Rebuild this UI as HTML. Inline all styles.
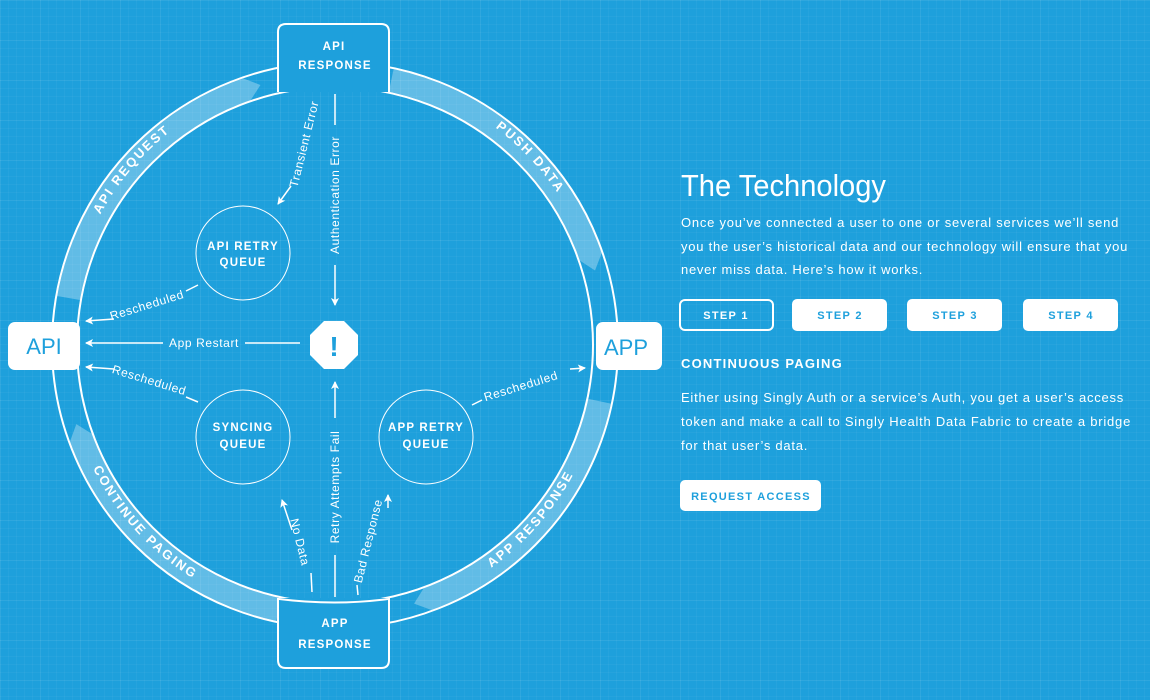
<!DOCTYPE html>
<html><head><meta charset="utf-8"><style>
html,body{margin:0;padding:0;width:1150px;height:700px;overflow:hidden;background:#1ea0dc;}
.bg{position:absolute;left:0;top:0;width:1150px;height:700px;
background-color:#1ea0dc;
background-image:
linear-gradient(rgba(255,255,255,0.045) 1px,transparent 1px),
linear-gradient(90deg,rgba(255,255,255,0.045) 1px,transparent 1px),
linear-gradient(rgba(255,255,255,0.035) 1px,transparent 1px),
linear-gradient(90deg,rgba(255,255,255,0.035) 1px,transparent 1px);
background-size:40px 40px,40px 40px,8px 8px,8px 8px;}
svg{position:absolute;left:0;top:0;}
text{font-family:"Liberation Sans",sans-serif;fill:#fff;}
.cap{font-weight:bold;font-size:11.5px;letter-spacing:1.2px;}
.lab{font-size:12px;letter-spacing:0.6px;}
.ring{font-weight:bold;font-size:13px;letter-spacing:2px;}
.p{font-size:13px;letter-spacing:0.7px;}
.btn{font-weight:bold;font-size:11px;letter-spacing:1.3px;fill:#1ea0dc;}
</style></head><body>
<div class="bg"></div>
<svg id="s" width="1150" height="700" viewBox="0 0 1150 700">
<defs>
<marker id="ah" markerWidth="10" markerHeight="10" refX="8" refY="5" orient="auto" markerUnits="userSpaceOnUse">
<path d="M1,1 L9,5 L1,9 L3,5 Z" fill="#fff"/></marker>
<path id="pReq" d="M 71 300 A 270 270 0 0 1 250 88"/>
<path id="pPush" d="M 420 88 A 270 270 0 0 1 600 300"/>
<path id="pCont" d="M 70 400 A 270 270 0 0 0 260 608"/>
<path id="pResp" d="M 420 604 A 270 270 0 0 0 600 398"/>
</defs>
<g id="bands"></g>
<circle cx="335" cy="345" r="283" fill="none" stroke="#fff" stroke-width="2"/>
<circle cx="335" cy="345" r="258" fill="none" stroke="#fff" stroke-width="2"/>
<text class="ring"><textPath href="#pReq" startOffset="50%" text-anchor="middle" dy="4">API REQUEST</textPath></text>
<text class="ring"><textPath href="#pPush" startOffset="45%" text-anchor="middle">PUSH DATA</textPath></text>
<text class="ring"><textPath href="#pCont" startOffset="50%" text-anchor="middle">CONTINUE PAGING</textPath></text>
<text class="ring"><textPath href="#pResp" startOffset="50%" text-anchor="middle">APP RESPONSE</textPath></text>

<g>
<path d="M278,92 L278,32 Q278,24 286,24 L381,24 Q389,24 389,32 L389,92" fill="#1ea0dc" stroke="#fff" stroke-width="2"/>
<text class="cap" x="334" y="50" text-anchor="middle">API</text>
<text class="cap" x="335" y="69" text-anchor="middle">RESPONSE</text>
</g>
<g>
<path d="M278,598 L278,660 Q278,668 286,668 L381,668 Q389,668 389,660 L389,598" fill="#1ea0dc" stroke="#fff" stroke-width="2"/>
<path d="M279,599 Q335,606 388,599" fill="none" stroke="#fff" stroke-width="2"/>
<text class="cap" x="335" y="627" text-anchor="middle">APP</text>
<text class="cap" x="335" y="648" text-anchor="middle">RESPONSE</text>
</g>
<g>
<rect x="8" y="322" width="72" height="48" rx="7" fill="#fff"/>
<text x="44" y="354" text-anchor="middle" style="fill:#1ea0dc;font-size:22px">API</text>
</g>
<g>
<rect x="596" y="322" width="66" height="48" rx="7" fill="#fff"/>
<text x="626" y="355" text-anchor="middle" style="fill:#1ea0dc;font-size:22px">APP</text>
</g>

<g fill="none" stroke="#fff" stroke-width="1">
<circle cx="243" cy="253" r="47"/>
<circle cx="243" cy="437" r="47"/>
<circle cx="426" cy="437" r="47"/>
</g>
<text class="cap" x="243" y="250" text-anchor="middle">API RETRY</text>
<text class="cap" x="243" y="266" text-anchor="middle">QUEUE</text>
<text class="cap" x="243" y="431" text-anchor="middle">SYNCING</text>
<text class="cap" x="243" y="448" text-anchor="middle">QUEUE</text>
<text class="cap" x="426" y="431" text-anchor="middle">APP RETRY</text>
<text class="cap" x="426" y="448" text-anchor="middle">QUEUE</text>

<g>
<polygon points="324,321 344,321 358,335 358,355 344,369 324,369 310,355 310,335" fill="#fff"/>
<text x="334" y="356" text-anchor="middle" style="fill:#1ea0dc;font-size:28px;font-weight:bold">!</text>
</g>

<g stroke="#fff" stroke-width="1.5" fill="none">
<line x1="335" y1="94" x2="335" y2="125"/>
<line x1="335" y1="265" x2="335" y2="305" marker-end="url(#ah)"/>
<line x1="335" y1="597" x2="335" y2="555"/>
<line x1="335" y1="418" x2="335" y2="382" marker-end="url(#ah)"/>
<line x1="300" y1="343" x2="245" y2="343"/>
<line x1="163" y1="343" x2="86" y2="343" marker-end="url(#ah)"/>
<line x1="114" y1="319" x2="86" y2="321" marker-end="url(#ah)"/>
<line x1="186" y1="291" x2="198" y2="285"/>
<line x1="114" y1="369" x2="86" y2="367" marker-end="url(#ah)"/>
<line x1="186" y1="397" x2="198" y2="402"/>
<line x1="570" y1="369" x2="585" y2="368" marker-end="url(#ah)"/>
<line x1="472" y1="405" x2="482" y2="400"/>
<line x1="291" y1="186" x2="278" y2="204" marker-end="url(#ah)"/>
<line x1="292" y1="530" x2="282" y2="500" marker-end="url(#ah)"/>
<line x1="311" y1="573" x2="312" y2="592"/>
<line x1="388" y1="508" x2="388" y2="495" marker-end="url(#ah)"/>
<line x1="357" y1="585" x2="358" y2="595"/>
</g>
<text class="lab" transform="translate(339,195) rotate(-90)" text-anchor="middle">Authentication Error</text>
<text class="lab" transform="translate(339,487) rotate(-90)" text-anchor="middle">Retry Attempts Fail</text>
<text class="lab" x="204" y="347" text-anchor="middle">App Restart</text>
<text class="lab" transform="translate(148,309) rotate(-17)" text-anchor="middle">Rescheduled</text>
<text class="lab" transform="translate(148,384) rotate(17)" text-anchor="middle">Rescheduled</text>
<text class="lab" transform="translate(522,390) rotate(-17)" text-anchor="middle">Rescheduled</text>
<text class="lab" transform="translate(308,145) rotate(-76)" text-anchor="middle">Transient Error</text>
<text class="lab" transform="translate(296,543) rotate(76)" text-anchor="middle">No Data</text>
<text class="lab" transform="translate(372,542) rotate(-76)" text-anchor="middle">Bad Response</text>

<text x="681" y="196" style="font-size:31px" textLength="205" lengthAdjust="spacingAndGlyphs">The Technology</text>
<g>
<text class="p" x="681" y="227" textLength="438" lengthAdjust="spacing">Once you’ve connected a user to one or several services we’ll send</text>
<text class="p" x="681" y="251" textLength="447" lengthAdjust="spacing">you the user’s historical data and our technology will ensure that you</text>
<text class="p" x="681" y="274" textLength="242" lengthAdjust="spacing">never miss data. Here’s how it works.</text>
</g>
<g>
<rect x="680" y="300" width="93" height="30" rx="5" fill="none" stroke="#fff" stroke-width="2"/>
<text class="btn" x="726" y="319" text-anchor="middle" style="fill:#fff">STEP 1</text>
</g>
<g>
<rect x="792" y="299" width="95" height="32" rx="5" fill="#fff"/>
<text class="btn" x="840" y="319" text-anchor="middle">STEP 2</text>
</g>
<g>
<rect x="907" y="299" width="95" height="32" rx="5" fill="#fff"/>
<text class="btn" x="955" y="319" text-anchor="middle">STEP 3</text>
</g>
<g>
<rect x="1023" y="299" width="95" height="32" rx="5" fill="#fff"/>
<text class="btn" x="1071" y="319" text-anchor="middle">STEP 4</text>
</g>
<text x="681" y="368" style="font-size:13px;font-weight:bold;letter-spacing:1.3px" textLength="162" lengthAdjust="spacing">CONTINUOUS PAGING</text>
<g>
<text class="p" x="681" y="402" textLength="443" lengthAdjust="spacing">Either using Singly Auth or a service’s Auth, you get a user’s access</text>
<text class="p" x="681" y="426" textLength="450" lengthAdjust="spacing">token and make a call to Singly Health Data Fabric to create a bridge</text>
<text class="p" x="681" y="450" textLength="127" lengthAdjust="spacing">for that user’s data.</text>
</g>
<g>
<rect x="680" y="480" width="141" height="31" rx="5" fill="#fff"/>
<text class="btn" x="751" y="500" text-anchor="middle">REQUEST ACCESS</text>
</g>
</svg>
<script>
// ring flow bands: [startAngleDeg, endAngleDeg(arrow tip)]
const bandStarts=[190,-78,102,12];
const bandEnds=[254,-16,163,73];
const cx=335,cy=345,r0=259,r1=282,rm=270.5;
const g=document.getElementById('bands');
function pt(r,a){const t=a*Math.PI/180;return [cx+r*Math.cos(t),cy+r*Math.sin(t)];}
for(let i=0;i<bandStarts.length;i++){
  let a0=bandStarts[i],a1=bandEnds[i];
  const dir=a1>a0?1:-1;
  const tipBack=a1-dir*3;
  const p1=pt(r1,a0),p2=pt(r1,tipBack),tip=pt(rm,a1),p3=pt(r0,tipBack),p4=pt(r0,a0);
  const sw=dir>0?1:0;
  const large=Math.abs(tipBack-a0)>180?1:0;
  const d=`M${p1} A${r1},${r1} 0 ${large} ${sw} ${p2} L${tip} L${p3} A${r0},${r0} 0 ${large} ${1-sw} ${p4} Z`;
  const el=document.createElementNS('http://www.w3.org/2000/svg','path');
  el.setAttribute('d',d);
  el.setAttribute('fill','rgba(255,255,255,0.3)');
  
  
  g.appendChild(el);
}
</script>
</body></html>
